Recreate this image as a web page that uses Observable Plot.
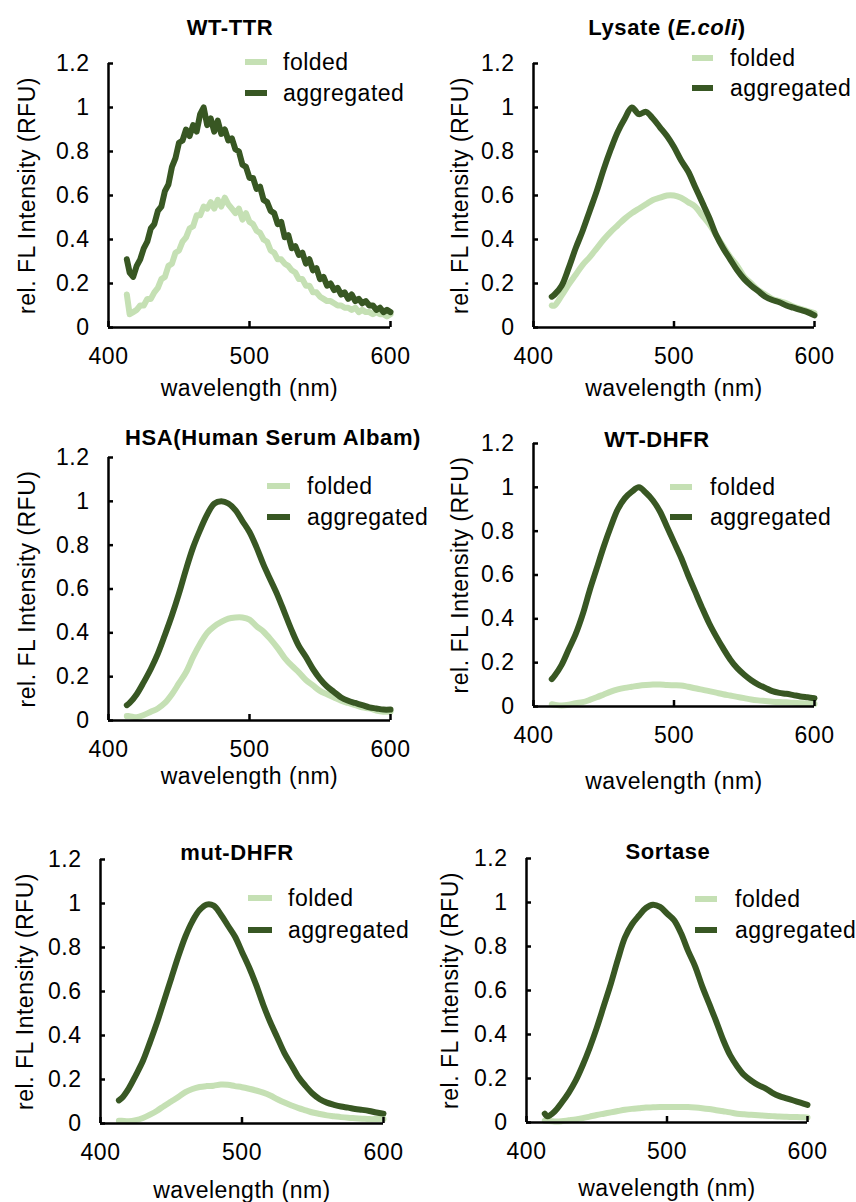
<!DOCTYPE html>
<html><head><meta charset="utf-8">
<script src="https://cdn.jsdelivr.net/npm/d3@7"></script>
<script src="https://cdn.jsdelivr.net/npm/@observablehq/plot@0.6"></script>
<style>
body{margin:0;background:#fff;font-family:"Liberation Sans",Arial,sans-serif;color:#000;}
#wrap{position:relative;width:856px;height:1202px;overflow:hidden;background:#fff;}
.panel{position:absolute;}
.panel text{letter-spacing:0.5px;}
.title{position:absolute;font-weight:bold;font-size:22px;letter-spacing:0.6px;line-height:1;transform:translate(-50%,-50%);white-space:nowrap;}
.leg{position:absolute;font-size:23px;letter-spacing:0.5px;line-height:1;transform:translateY(-50%);white-space:nowrap;}
.sw{position:absolute;height:6px;transform:translateY(-50%);}
</style></head><body><div id="wrap"></div>
<script>
// ---------- data ----------
const xTicks = [400, 500, 600];
const yTicks = [0, 0.2, 0.4, 0.6, 0.8, 1, 1.2];
const seriesNames = ["folded", "aggregated"];
const titles = ["WT-TTR", "Lysate (E.coli)", "HSA(Human Serum Albam)", "WT-DHFR", "mut-DHFR", "Sortase"];
const xLabel = "wavelength (nm)";
const yLabel = "rel. FL Intensity (RFU)";

// WT-TTR (noisy spectrum, finer sampling)
const wlTTR = [
  413, 415, 417.5, 420, 422.5, 425, 427.5, 430, 432.5, 435,
  437.5, 440, 442.5, 445, 447.5, 450, 452.5, 455, 457.5, 460,
  462.5, 465, 467.5, 470, 472.5, 475, 477.5, 480, 482.5, 485,
  487.5, 490, 492.5, 495, 497.5, 500, 502.5, 505, 507.5, 510,
  512.5, 515, 517.5, 520, 522.5, 525, 527.5, 530, 532.5, 535,
  537.5, 540, 542.5, 545, 547.5, 550, 552.5, 555, 557.5, 560,
  562.5, 565, 567.5, 570, 572.5, 575, 577.5, 580, 582.5, 585,
  587.5, 590, 592.5, 595, 597.5, 600];
const ttrFolded = [
  0.15, 0.06, 0.07, 0.08, 0.10, 0.10, 0.13, 0.13, 0.16, 0.18,
  0.22, 0.23, 0.28, 0.29, 0.34, 0.35, 0.39, 0.41, 0.45, 0.46,
  0.51, 0.51, 0.55, 0.54, 0.57, 0.54, 0.58, 0.55, 0.59, 0.56,
  0.54, 0.52, 0.54, 0.49, 0.52, 0.48, 0.47, 0.44, 0.43, 0.40,
  0.39, 0.35, 0.34, 0.31, 0.31, 0.29, 0.28, 0.26, 0.25, 0.22,
  0.22, 0.19, 0.19, 0.16, 0.16, 0.14, 0.13, 0.12, 0.12, 0.11,
  0.10, 0.10, 0.09, 0.09, 0.08, 0.09, 0.07, 0.08, 0.07, 0.07,
  0.06, 0.07, 0.06, 0.06, 0.05, 0.06];
const ttrAggregated = [
  0.31, 0.25, 0.23, 0.28, 0.31, 0.36, 0.39, 0.45, 0.47, 0.53,
  0.55, 0.62, 0.65, 0.73, 0.77, 0.84, 0.85, 0.90, 0.87, 0.92,
  0.89, 0.97, 1.00, 0.92, 0.95, 0.89, 0.94, 0.88, 0.90, 0.85,
  0.86, 0.81, 0.80, 0.74, 0.73, 0.68, 0.68, 0.63, 0.64, 0.58,
  0.57, 0.53, 0.52, 0.47, 0.48, 0.41, 0.42, 0.36, 0.37, 0.33,
  0.34, 0.29, 0.31, 0.26, 0.27, 0.22, 0.23, 0.19, 0.20, 0.17,
  0.18, 0.15, 0.16, 0.13, 0.15, 0.12, 0.13, 0.11, 0.12, 0.10,
  0.10, 0.08, 0.09, 0.07, 0.08, 0.07];

// other panels share a 5 nm grid
const wl = [413, 415, 420, 425, 430, 435, 440, 445, 450, 455,
  460, 465, 470, 475, 480, 485, 490, 495, 500, 505,
  510, 515, 520, 525, 530, 535, 540, 545, 550, 555,
  560, 565, 570, 575, 580, 585, 590, 595, 600];

const lysateFolded = [0.10,0.10,0.145,0.195,0.24,0.285,0.32,0.36,0.40,0.435,
  0.465,0.495,0.52,0.54,0.56,0.58,0.59,0.60,0.60,0.59,
  0.57,0.55,0.51,0.47,0.42,0.37,0.32,0.28,0.23,0.20,
  0.17,0.15,0.13,0.12,0.11,0.095,0.085,0.075,0.065];
const lysateAggregated = [0.14,0.15,0.19,0.27,0.36,0.44,0.53,0.62,0.72,0.81,
  0.89,0.95,1.00,0.97,0.98,0.95,0.91,0.87,0.82,0.76,
  0.71,0.64,0.57,0.50,0.42,0.36,0.31,0.26,0.22,0.19,
  0.165,0.14,0.125,0.115,0.10,0.09,0.08,0.07,0.055];

const hsaFolded = [0.02,0.02,0.015,0.025,0.04,0.055,0.08,0.12,0.17,0.22,
  0.29,0.35,0.40,0.43,0.45,0.465,0.47,0.47,0.46,0.43,
  0.405,0.37,0.33,0.285,0.25,0.22,0.185,0.16,0.135,0.12,
  0.105,0.09,0.08,0.07,0.06,0.055,0.045,0.04,0.04];
const hsaAggregated = [0.07,0.08,0.12,0.175,0.235,0.305,0.39,0.48,0.58,0.69,
  0.79,0.87,0.94,0.99,1.00,0.99,0.96,0.91,0.86,0.79,
  0.71,0.64,0.57,0.49,0.41,0.34,0.29,0.235,0.19,0.155,
  0.13,0.105,0.09,0.08,0.07,0.06,0.055,0.05,0.05];

const wtDhfrFolded = [0.01,0.008,0.005,0.008,0.015,0.02,0.03,0.042,0.055,0.068,
  0.078,0.085,0.09,0.095,0.098,0.10,0.10,0.098,0.097,0.096,
  0.09,0.083,0.077,0.07,0.063,0.056,0.05,0.044,0.038,0.032,
  0.028,0.025,0.022,0.02,0.019,0.017,0.015,0.013,0.012];
const wtDhfrAggregated = [0.125,0.14,0.19,0.26,0.33,0.42,0.53,0.63,0.73,0.82,
  0.90,0.95,0.98,1.00,0.975,0.94,0.89,0.82,0.75,0.68,
  0.60,0.525,0.45,0.38,0.32,0.265,0.215,0.175,0.145,0.12,
  0.10,0.085,0.07,0.062,0.058,0.052,0.046,0.042,0.038];

const mutDhfrFolded = [0.012,0.012,0.01,0.015,0.025,0.04,0.058,0.08,0.10,0.12,
  0.143,0.157,0.166,0.17,0.172,0.177,0.176,0.17,0.165,0.158,
  0.15,0.14,0.127,0.11,0.095,0.082,0.07,0.06,0.05,0.043,
  0.037,0.033,0.029,0.026,0.024,0.022,0.02,0.02,0.02];
const mutDhfrAggregated = [0.105,0.115,0.16,0.22,0.285,0.37,0.46,0.56,0.66,0.76,
  0.85,0.92,0.97,0.995,0.99,0.95,0.90,0.85,0.78,0.71,
  0.63,0.54,0.46,0.39,0.32,0.265,0.21,0.17,0.135,0.11,
  0.095,0.085,0.077,0.072,0.066,0.062,0.057,0.05,0.045];

const sortaseFolded = [0.008,0.007,0.005,0.006,0.01,0.014,0.02,0.027,0.034,0.04,
  0.046,0.052,0.058,0.062,0.065,0.068,0.069,0.07,0.07,0.07,
  0.07,0.07,0.068,0.065,0.061,0.056,0.051,0.046,0.04,0.037,
  0.035,0.033,0.031,0.029,0.027,0.026,0.025,0.024,0.023];
const sortaseAggregated = [0.04,0.028,0.05,0.09,0.135,0.19,0.26,0.34,0.43,0.53,
  0.63,0.74,0.84,0.90,0.94,0.975,0.99,0.98,0.95,0.92,
  0.86,0.78,0.71,0.62,0.54,0.46,0.375,0.305,0.255,0.215,
  0.19,0.17,0.155,0.135,0.12,0.11,0.10,0.09,0.08];

// ---------- styles / layout ----------
const colors = {folded: "#c5e0b4", aggregated: "#385723"};
const layout = [
  {x0:108,x1:390,yT:63, y0:327, tx:230,ty:28, lx:245,lw:22,ly1:62, ly2:93, ltx:283, ylo:90, xlo:68},
  {x0:533,x1:814,yT:63, y0:327, tx:667,ty:28, lx:692,lw:21,ly1:58, ly2:88, ltx:730, ylo:82, xlo:68},
  {x0:108,x1:390,yT:457,y0:720, tx:273,ty:438,lx:267,lw:23,ly1:486,ly2:517,ltx:307, ylo:90, xlo:63},
  {x0:533,x1:814,yT:443,y0:706, tx:657,ty:440,lx:670,lw:22,ly1:487,ly2:517,ltx:710, ylo:82, xlo:82},
  {x0:100,x1:383,yT:859,y0:1123,tx:237,ty:853,lx:248,lw:24,ly1:898,ly2:930,ltx:288, ylo:84, xlo:74},
  {x0:526,x1:807,yT:858,y0:1122,tx:668,ty:852,lx:695,lw:22,ly1:899,ly2:930,ltx:735, ylo:85, xlo:73}
];

const panels = [
  {wl: wlTTR, folded: ttrFolded, aggregated: ttrAggregated, curve: "linear"},
  {wl: wl, folded: lysateFolded, aggregated: lysateAggregated, curve: "catmull-rom"},
  {wl: wl, folded: hsaFolded, aggregated: hsaAggregated, curve: "catmull-rom"},
  {wl: wl, folded: wtDhfrFolded, aggregated: wtDhfrAggregated, curve: "catmull-rom"},
  {wl: wl, folded: mutDhfrFolded, aggregated: mutDhfrAggregated, curve: "catmull-rom"},
  {wl: wl, folded: sortaseFolded, aggregated: sortaseAggregated, curve: "catmull-rom"}
];

const wrap = document.getElementById("wrap");
const mL = 100, mR = 30, mT = 20, mB = 95;
const axisColor = "#000", axisW = 2.5;

panels.forEach((p, i) => {
  const L = layout[i];
  const W = L.x1 - L.x0, H = L.y0 - L.yT;
  const rows = seriesNames.map(s => p.wl.map((w, j) => ({wl: w, v: p[s][j], s})));
  const svg = Plot.plot({
    width: W + mL + mR, height: H + mT + mB,
    marginLeft: mL, marginRight: mR, marginTop: mT, marginBottom: mB,
    style: {fontFamily: '"Liberation Sans", Arial, sans-serif', fontSize: "23px", background: "transparent", color: "#000", overflow: "visible"},
    x: {domain: [400, 600]},
    y: {domain: [0, 1.2]},
    marks: [
      Plot.axisY(yTicks, {tickSize: 0, tickPadding: 19, tickFormat: d => String(d), label: yLabel, labelArrow: "none", labelAnchor: "center", labelOffset: L.ylo}),
      Plot.axisX(xTicks, {tickSize: 0, tickPadding: 20, tickFormat: d => String(d), label: xLabel, labelArrow: "none", labelAnchor: "center", labelOffset: L.xlo}),
      ...rows.map(r => Plot.line(r, {x: "wl", y: "v", stroke: colors[r[0].s], strokeWidth: 6, curve: p.curve, strokeLinejoin: "round", strokeLinecap: "round"})),
      Plot.tickX(xTicks, {x: d => d, stroke: axisColor, strokeWidth: axisW, insetTop: H - 6}),
      Plot.tickY(yTicks, {y: d => d, stroke: axisColor, strokeWidth: axisW, insetRight: W - 5}),
      Plot.ruleX([400], {stroke: axisColor, strokeWidth: axisW}),
      Plot.ruleY([0], {stroke: axisColor, strokeWidth: axisW})
    ]
  });
  svg.classList.add("panel");
  svg.style.left = (L.x0 - mL) + "px";
  svg.style.top = (L.yT - mT) + "px";
  wrap.appendChild(svg);

  const t = document.createElement("div");
  t.className = "title";
  t.style.left = L.tx + "px"; t.style.top = L.ty + "px";
  t.innerHTML = titles[i].replace("E.coli", "<i>E.coli</i>");
  wrap.appendChild(t);

  seriesNames.forEach((s, k) => {
    const y = k === 0 ? L.ly1 : L.ly2;
    const sw = document.createElement("div");
    sw.className = "sw";
    sw.style.left = L.lx + "px"; sw.style.top = y + "px";
    sw.style.width = L.lw + "px"; sw.style.background = colors[s];
    wrap.appendChild(sw);
    const tx = document.createElement("div");
    tx.className = "leg";
    tx.style.left = L.ltx + "px"; tx.style.top = y + "px";
    tx.textContent = s;
    wrap.appendChild(tx);
  });
});
</script></body></html>
